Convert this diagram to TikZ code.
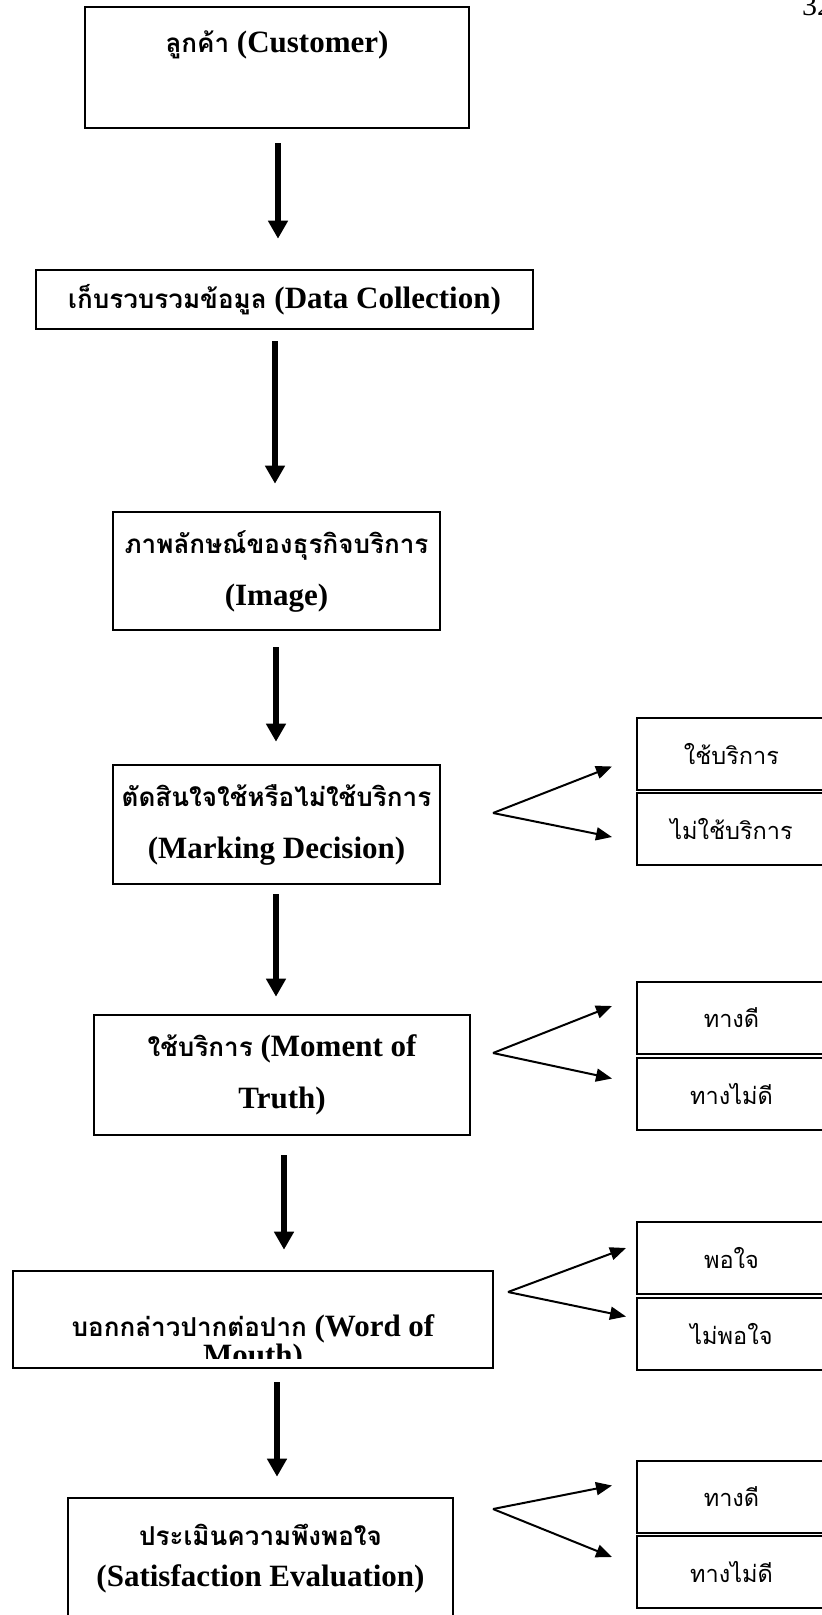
\documentclass[tikz,border=0pt]{standalone}
\usepackage{fontspec}
\setmainfont{Liberation Serif}
\newfontfamily\thaifont[Script=Thai,Scale=0.84]{Loma}
\usetikzlibrary{arrows.meta,positioning}
\tikzset{mainbox/.style={draw, rectangle, line width=2.6pt, align=center, font=\bfseries\fontsize{31}{52}\selectfont}}
\tikzset{pickbox/.style={draw, rectangle, line width=2pt, minimum width=189pt, minimum height=72pt, inner sep=0pt, font=\thaifont\fontsize{28}{30}\selectfont}}
\tikzset{bigarrow/.style={-{Triangle[length=18pt,width=19pt]}, line width=6pt}}
\tikzset{fork/.style={-{Triangle[length=16pt,width=13pt]}, line width=2pt}}

\begin{document}
\begin{tikzpicture}[x=1pt, y=-1pt]
\useasboundingbox (0,0) rectangle (822,1615);
\node[anchor=base west, inner sep=0pt, font=\fontsize{30}{30}\selectfont] (pg) at (802,15) {32};
\node[mainbox, minimum width=384pt, minimum height=121pt] (M0) at (277,67.5) {{\thaifont ลูกค้า} (Customer)\\ \mbox{}};
\node[mainbox, minimum width=497pt, minimum height=59pt] (M1) at (284.5,299.5) {{\thaifont เก็บรวบรวมข้อมูล} (Data Collection)};
\node[mainbox, minimum width=327pt, minimum height=118pt] (M2) at (276.5,571) {{\thaifont ภาพลักษณ์ของธุรกิจบริการ}\\(Image)};
\node[mainbox, minimum width=327pt, minimum height=119pt] (M3) at (276.5,824.5) {{\thaifont ตัดสินใจใช้หรือไม่ใช้บริการ}\\(Marking Decision)};
\node[mainbox, minimum width=376pt, minimum height=120pt] (M4) at (282,1075) {{\thaifont ใช้บริการ} (Moment of\\Truth)};
\node[mainbox, minimum width=480pt, minimum height=97pt] (M5) at (253,1319.5) {};
\begin{scope}
\clip ([shift={(3pt,-3pt)}]M5.north west) rectangle ([shift={(-3pt,11pt)}]M5.south east);
\node[anchor=base, align=center, inner sep=0pt, font=\bfseries\fontsize{31}{26}\selectfont] (M5t) at ([yshift=-96pt]M5.north) {{\thaifont บอกกล่าวปากต่อปาก} (Word of\\Mouth)};
\end{scope}
\node[mainbox, minimum width=385pt, minimum height=122pt, font=\bfseries\fontsize{31}{41}\selectfont] (M6) at (260.5,1559) {{\thaifont ประเมินความพึงพอใจ}\\(Satisfaction Evaluation)};

\node[pickbox] (Y1) at (731.5,753.5) {ใช้บริการ};
\node[pickbox, below=1.5pt of Y1] (N1) {ไม่ใช้บริการ};
\node[pickbox] (Y2) at (731.5,1018) {ทางดี};
\node[pickbox, below=1.5pt of Y2] (N2) {ทางไม่ดี};
\node[pickbox] (Y3) at (731.5,1258) {พอใจ};
\node[pickbox, below=1.5pt of Y3] (N3) {ไม่พอใจ};
\node[pickbox] (Y4) at (731.5,1496.5) {ทางดี};
\node[pickbox, below=1.5pt of Y4] (N4) {ทางไม่ดี};

\coordinate (a1) at (493,813);
\coordinate (a2) at (493,1053);
\coordinate (a3) at (508,1292);
\coordinate (a4) at (493,1509);

\draw[bigarrow] ([shift={(1pt,-14pt)}]M0.south) -- ([shift={(-6.5pt,30pt)}]M1.north);
\draw[bigarrow] ([shift={(-9.5pt,-11pt)}]M1.south) -- ([shift={(-1.5pt,27pt)}]M2.north);
\draw[bigarrow] ([shift={(-0.5pt,-16pt)}]M2.south) -- ([shift={(-0.5pt,22pt)}]M3.north);
\draw[bigarrow] ([shift={(-0.5pt,-9pt)}]M3.south) -- ([shift={(-6pt,17pt)}]M4.north);
\draw[bigarrow] ([shift={(2pt,-19pt)}]M4.south) -- ([shift={(31pt,20pt)}]M5.north);
\draw[bigarrow] ([shift={(24pt,-13pt)}]M5.south) -- ([shift={(16.5pt,20pt)}]M6.north);

\draw[fork] (a1) -- ([shift={(-24pt,24pt)}]Y1.south west);
\draw[fork] (a1) -- ([shift={(-24pt,-45pt)}]N1.north west);
\draw[fork] (a2) -- ([shift={(-24pt,49pt)}]Y2.south west);
\draw[fork] (a2) -- ([shift={(-24pt,-22pt)}]N2.north west);
\draw[fork] (a3) -- ([shift={(-10pt,47pt)}]Y3.south west);
\draw[fork] (a3) -- ([shift={(-10pt,-20pt)}]N3.north west);
\draw[fork] (a4) -- ([shift={(-24pt,48pt)}]Y4.south west);
\draw[fork] (a4) -- ([shift={(-24pt,-22pt)}]N4.north west);
\end{tikzpicture}
\end{document}
